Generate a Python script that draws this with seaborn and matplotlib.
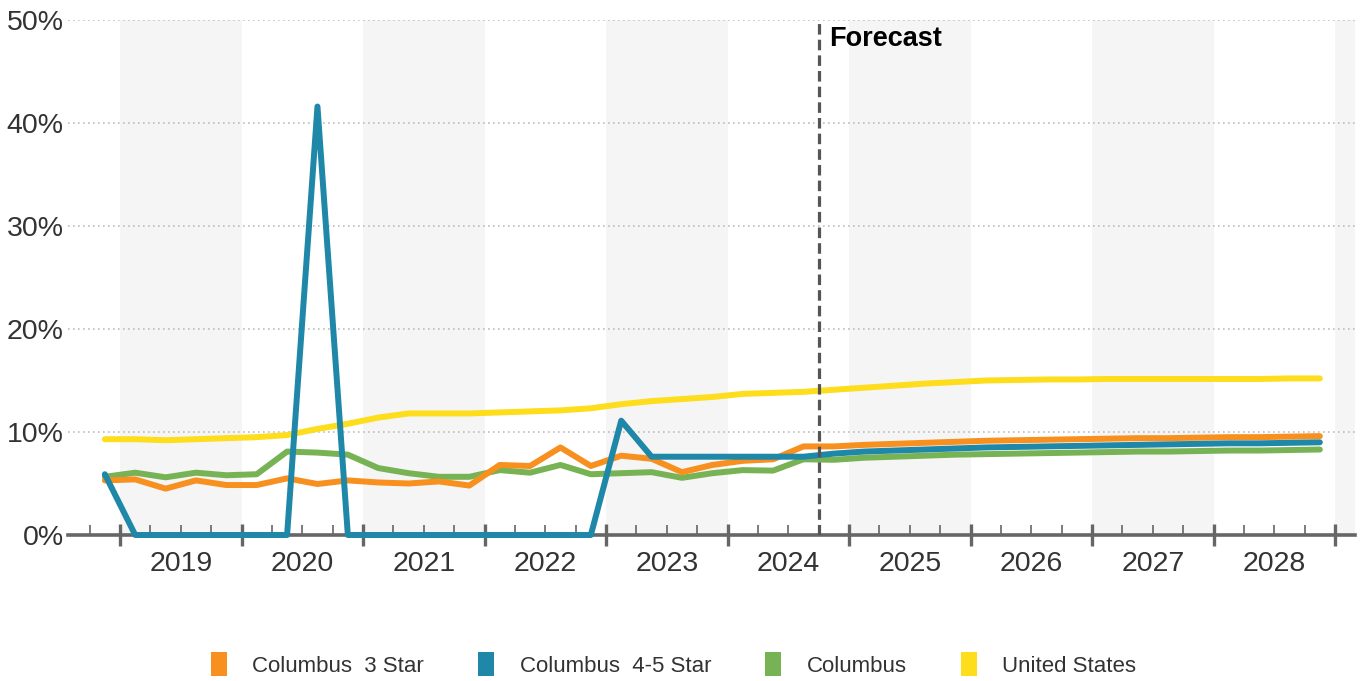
import matplotlib
matplotlib.use('Agg')
import matplotlib.pyplot as plt
import matplotlib.transforms as mtransforms
from matplotlib.lines import Line2D
from matplotlib import font_manager
import seaborn as sns
import numpy as np
import pandas as pd

# Quarterly data, 2018 Q4 .. 2028 Q4 (forecast from 2024 Q4)
quarters = pd.period_range('2018Q4', '2028Q4', freq='Q')
x_pos = quarters.year + (quarters.quarter - 0.5) / 4

three_star = [5.3, 5.4, 4.5, 5.3, 4.85, 4.85, 5.5, 4.95, 5.3, 5.1,
              5.0, 5.2, 4.8, 6.8, 6.7, 8.5, 6.7, 7.7, 7.4, 6.1,
              6.8, 7.2, 7.35, 8.6, 8.6, 8.75, 8.85, 8.95, 9.05, 9.15,
              9.2, 9.25, 9.3, 9.35, 9.4, 9.4, 9.45, 9.5, 9.5, 9.55,
              9.6]
four_five_star = [5.9, 0, 0, 0, 0, 0, 0, 41.6, 0, 0,
                  0, 0, 0, 0, 0, 0, 0, 11.1, 7.6, 7.6,
                  7.6, 7.6, 7.6, 7.6, 7.9, 8.1, 8.2, 8.3, 8.4, 8.5,
                  8.55, 8.6, 8.65, 8.7, 8.75, 8.8, 8.85, 8.9, 8.9, 8.95,
                  9.0]
columbus = [5.65, 6.05, 5.6, 6.05, 5.8, 5.9, 8.1, 8.0, 7.8, 6.5,
            6.0, 5.65, 5.65, 6.3, 6.05, 6.8, 5.9, 6.0, 6.1, 5.55,
            6.0, 6.3, 6.25, 7.35, 7.3, 7.5, 7.6, 7.7, 7.8, 7.85,
            7.9, 7.95, 8.0, 8.05, 8.1, 8.1, 8.15, 8.2, 8.2, 8.25,
            8.3]
united_states = [9.3, 9.3, 9.2, 9.3, 9.4, 9.5, 9.7, 10.3, 10.8, 11.4,
                 11.8, 11.8, 11.8, 11.9, 12.0, 12.1, 12.3, 12.7, 13.0, 13.2,
                 13.4, 13.7, 13.8, 13.9, 14.1, 14.3, 14.5, 14.7, 14.85, 15.0,
                 15.05, 15.1, 15.1, 15.15, 15.15, 15.15, 15.15, 15.15, 15.15, 15.2,
                 15.2]

series_names = ['Columbus  3 Star', 'Columbus  4-5 Star', 'Columbus', 'United States']
series_colors = ['#F7901E', '#1F87A8', '#77B354', '#FDDD1C']
draw_order = ['United States', 'Columbus', 'Columbus  3 Star', 'Columbus  4-5 Star']
years = list(range(2019, 2029))
y_ticks = [0, 10, 20, 30, 40, 50]
forecast_start = 2024.75

df = pd.DataFrame({
    'x': x_pos,
    'Columbus  3 Star': three_star,
    'Columbus  4-5 Star': four_five_star,
    'Columbus': columbus,
    'United States': united_states,
}).melt(id_vars='x', var_name='series', value_name='value')

sns.set_theme(style='white')
plt.rcParams['font.family'] = ['Liberation Sans', 'DejaVu Sans']

names = {f.name for f in font_manager.fontManager.ttflist}
if 'Liberation Sans Narrow' in names:
    legend_font = {'family': 'Liberation Sans Narrow', 'size': 19}
else:
    legend_font = {'family': 'Liberation Sans', 'size': 16}

fig, ax = plt.subplots(figsize=(13.66, 6.81), dpi=100)
fig.subplots_adjust(left=0.0498, right=0.992, bottom=0.2144, top=0.9706)

# alternating year bands
for yr in range(2019, 2031, 2):
    ax.axvspan(yr, yr + 1, color='#F5F5F5', lw=0, zorder=0)

for v in y_ticks[1:]:
    ax.axhline(v, color='#BDBDBD', lw=1.2, ls=(0, (1, 2)), zorder=1)

palette = dict(zip(series_names, series_colors))
sns.lineplot(data=df, x='x', y='value', hue='series', hue_order=draw_order,
             palette=palette, linewidth=4.3, legend=False, ax=ax,
             errorbar=None, sort=False, zorder=3, clip_on=False,
             solid_capstyle='round', solid_joinstyle='round')

ax.axvline(forecast_start, color='#555555', lw=2.3, ls=(0, (3.3, 1.6)), zorder=4)
ax.text(forecast_start + 0.09, 0.964, 'Forecast',
        transform=mtransforms.blended_transform_factory(ax.transData, ax.transAxes),
        fontsize=19.5, fontweight='bold', color='black', ha='left', va='center')

ax.set_xlim(2018.572, 2029.165)
ax.set_ylim(0, 50)
ax.set_xlabel('')
ax.set_ylabel('')

ax.set_yticks(y_ticks)
ax.set_yticklabels([f'{v}%' for v in y_ticks])
ax.tick_params(axis='y', length=0, pad=3, labelsize=20.5, labelcolor='#333333')

ax.set_xticks(range(2019, 2030))
ax.set_xticklabels([])
ax.set_xticks(np.arange(2018.75, 2029.01, 0.25), minor=True)
ax.tick_params(axis='x', which='major', direction='inout', length=16.5, width=2.4, color='#666666', bottom=True)
ax.tick_params(axis='x', which='minor', direction='in', length=7.5, width=1.2, color='#666666', bottom=True)

trans = mtransforms.blended_transform_factory(ax.transData, ax.transAxes)
for yr in years:
    ax.text(yr + 0.5, -0.057, str(yr), transform=trans, ha='center', va='center',
            fontsize=20.5, color='#333333')

for s in ['top', 'right', 'left']:
    ax.spines[s].set_visible(False)
ax.spines['bottom'].set_color('#666666')
ax.spines['bottom'].set_linewidth(2.6)

tall_square = [(-0.34, -0.5), (0.34, -0.5), (0.34, 0.5), (-0.34, 0.5), (-0.34, -0.5)]
handles = [Line2D([], [], marker=tall_square, ls='', markersize=17, markerfacecolor=c, markeredgewidth=0)
           for c in series_colors]
leg = fig.legend(handles, series_names, loc='center', bbox_to_anchor=(0.492, 0.0215), ncol=4,
                 frameon=False, prop=legend_font, handletextpad=1.0, columnspacing=2.3,
                 handlelength=1.0)
for t in leg.get_texts():
    t.set_color('#333333')

fig.savefig('out.png', dpi=100)
